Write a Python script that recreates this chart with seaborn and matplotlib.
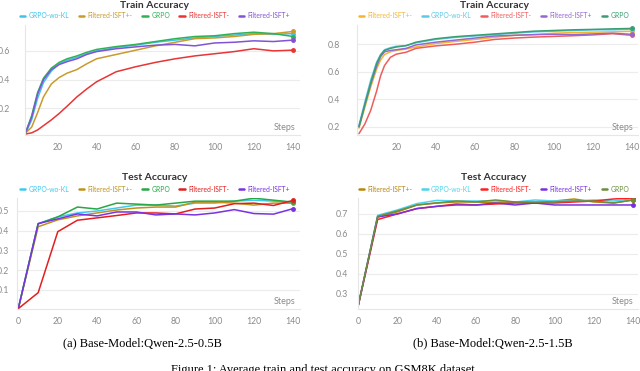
import pandas as pd
import matplotlib
matplotlib.use("Agg")
import matplotlib.pyplot as plt
import seaborn as sns

# ---- data ----
train_steps_a = [4, 7, 10, 13, 17, 21, 25, 30, 35, 40, 45, 50, 60, 70, 80, 90, 100, 110, 120, 130, 140]
train_a = {
    "GRPO-wo-KL":      [0.03, 0.12, 0.27, 0.38, 0.46, 0.51, 0.535, 0.555, 0.58, 0.60, 0.61, 0.625, 0.64, 0.66, 0.675, 0.69, 0.70, 0.71, 0.72, 0.715, 0.72],
    "Filtered-ISFT+-": [0.03, 0.07, 0.17, 0.28, 0.37, 0.415, 0.445, 0.47, 0.51, 0.545, 0.56, 0.575, 0.605, 0.635, 0.66, 0.685, 0.69, 0.70, 0.715, 0.72, 0.735],
    "GRPO":            [0.035, 0.15, 0.31, 0.41, 0.48, 0.52, 0.545, 0.565, 0.59, 0.61, 0.62, 0.63, 0.645, 0.665, 0.685, 0.70, 0.705, 0.72, 0.73, 0.72, 0.70],
    "Filtered-ISFT-":  [0.022, 0.03, 0.05, 0.08, 0.12, 0.165, 0.215, 0.28, 0.335, 0.385, 0.42, 0.455, 0.49, 0.52, 0.545, 0.565, 0.58, 0.595, 0.615, 0.60, 0.605],
    "Filtered-ISFT+":  [0.035, 0.14, 0.30, 0.40, 0.47, 0.505, 0.525, 0.545, 0.575, 0.595, 0.605, 0.615, 0.628, 0.64, 0.645, 0.635, 0.655, 0.66, 0.67, 0.665, 0.675],
}

train_steps_b = [1, 4, 7, 10, 12, 14, 17, 20, 25, 30, 40, 50, 60, 70, 80, 90, 100, 110, 120, 130, 140]
train_b = {
    "Filtered-ISFT+-": [0.19, 0.34, 0.49, 0.62, 0.685, 0.725, 0.745, 0.755, 0.765, 0.78, 0.805, 0.82, 0.835, 0.85, 0.865, 0.87, 0.88, 0.885, 0.888, 0.89, 0.895],
    "GRPO-wo-KL":      [0.21, 0.38, 0.54, 0.67, 0.725, 0.76, 0.775, 0.785, 0.79, 0.81, 0.835, 0.85, 0.86, 0.87, 0.88, 0.89, 0.895, 0.90, 0.905, 0.905, 0.91],
    "Filtered-ISFT-":  [0.15, 0.22, 0.32, 0.46, 0.57, 0.645, 0.705, 0.728, 0.742, 0.77, 0.788, 0.80, 0.815, 0.835, 0.845, 0.852, 0.857, 0.862, 0.868, 0.877, 0.865],
    "Filtered-ISFT+":  [0.20, 0.36, 0.51, 0.64, 0.71, 0.745, 0.755, 0.76, 0.77, 0.795, 0.815, 0.83, 0.845, 0.86, 0.865, 0.87, 0.872, 0.87, 0.875, 0.88, 0.872],
    "GRPO":            [0.20, 0.36, 0.52, 0.66, 0.72, 0.755, 0.77, 0.78, 0.79, 0.815, 0.84, 0.855, 0.865, 0.875, 0.885, 0.895, 0.90, 0.905, 0.908, 0.912, 0.915],
}

test_steps = [0, 10, 20, 30, 40, 50, 60, 70, 80, 90, 100, 110, 120, 130, 140]
test_a = {
    "GRPO-wo-KL":      [0.01, 0.435, 0.47, 0.49, 0.50, 0.515, 0.53, 0.53, 0.525, 0.54, 0.54, 0.55, 0.555, 0.55, 0.545],
    "Filtered-ISFT+-": [0.01, 0.42, 0.455, 0.475, 0.49, 0.505, 0.515, 0.52, 0.52, 0.545, 0.545, 0.54, 0.53, 0.54, 0.54],
    "GRPO":            [0.01, 0.435, 0.47, 0.52, 0.51, 0.54, 0.535, 0.53, 0.54, 0.55, 0.55, 0.55, 0.565, 0.555, 0.545],
    "Filtered-ISFT-":  [0.005, 0.085, 0.395, 0.453, 0.465, 0.477, 0.49, 0.49, 0.485, 0.51, 0.515, 0.537, 0.54, 0.528, 0.554],
    "Filtered-ISFT+":  [0.01, 0.436, 0.46, 0.485, 0.475, 0.495, 0.495, 0.48, 0.485, 0.48, 0.49, 0.507, 0.487, 0.484, 0.512],
}
test_b = {
    "Filtered-ISFT+-": [0.235, 0.685, 0.71, 0.745, 0.755, 0.76, 0.76, 0.755, 0.76, 0.755, 0.765, 0.775, 0.76, 0.755, 0.77],
    "GRPO-wo-KL":      [0.235, 0.693, 0.72, 0.752, 0.768, 0.765, 0.765, 0.765, 0.76, 0.77, 0.765, 0.765, 0.77, 0.765, 0.775],
    "Filtered-ISFT-":  [0.235, 0.672, 0.70, 0.727, 0.738, 0.75, 0.745, 0.75, 0.755, 0.755, 0.755, 0.76, 0.765, 0.775, 0.78],
    "Filtered-ISFT+":  [0.235, 0.685, 0.70, 0.727, 0.738, 0.745, 0.745, 0.755, 0.745, 0.755, 0.745, 0.745, 0.745, 0.745, 0.745],
    "GRPO":            [0.235, 0.688, 0.715, 0.745, 0.755, 0.765, 0.76, 0.77, 0.76, 0.76, 0.76, 0.765, 0.765, 0.755, 0.77],
}

colors_a_train = {"GRPO-wo-KL": "#41c2ea", "Filtered-ISFT+-": "#c99a2e", "GRPO": "#2fb253",
                  "Filtered-ISFT-": "#e83535", "Filtered-ISFT+": "#8253d4"}
colors_b_train = {"Filtered-ISFT+-": "#f3b632", "GRPO-wo-KL": "#5cc9e8", "Filtered-ISFT-": "#ee5d5d",
                  "Filtered-ISFT+": "#9466d2", "GRPO": "#3a9e72"}
colors_a_test = {"GRPO-wo-KL": "#3fc9f2", "Filtered-ISFT+-": "#c0921c", "GRPO": "#28a745",
                 "Filtered-ISFT-": "#e21f1f", "Filtered-ISFT+": "#7a32e2"}
colors_b_test = {"Filtered-ISFT+-": "#b8860b", "GRPO-wo-KL": "#4dd3ec", "Filtered-ISFT-": "#ff1f1f",
                 "Filtered-ISFT+": "#7b2fe0", "GRPO": "#6b8e3a"}


def to_long(steps, series):
    rows = []
    for name, vals in series.items():
        for s, v in zip(steps, vals):
            rows.append({"step": s, "value": v, "run": name})
    return pd.DataFrame(rows)


sns.set_theme(style="white")
plt.rcParams["font.family"] = ["Lato", "DejaVu Sans"]

fig = plt.figure(figsize=(6.4, 3.71), dpi=100)
W, H = 640.0, 371.0


def panel(box, steps, series, palette, title, title_y, legend_y, center_x,
          xlim, ylim, yticks, xticks, ypad):
    l, t, r, b = box
    ax = fig.add_axes([l / W, 1 - b / H, (r - l) / W, (b - t) / H])
    df = to_long(steps, series)
    order = list(series.keys())
    sns.lineplot(data=df, x="step", y="value", hue="run", hue_order=order,
                 palette=palette, linewidth=1.1, ax=ax, legend=False)
    # end-point dots
    for name in order:
        ax.plot(steps[-1], series[name][-1], "o", ms=2.5, color=palette[name])
    ax.set_xlim(*xlim)
    ax.set_ylim(*ylim)
    ax.set_yticks(yticks)
    ax.set_yticklabels([f"{v:.1f}" for v in yticks])
    ax.set_xticks(xticks)
    ax.set_xlabel("")
    ax.set_ylabel("")
    ax.grid(axis="y", color="#ececec", linewidth=0.8)
    for side in ["top", "right"]:
        ax.spines[side].set_visible(False)
    for side in ["left", "bottom"]:
        ax.spines[side].set_color("#e6e6e6")
        ax.spines[side].set_linewidth(0.8)
    ax.tick_params(axis="x", length=3, color="#dddddd", labelsize=6.3,
                   labelcolor="#8a8a8a", pad=2.5)
    ax.tick_params(axis="y", length=0, labelsize=6.3, labelcolor="#8a8a8a", pad=ypad)
    ax.text(0.985, 0.03, "Steps", transform=ax.transAxes, ha="right", va="bottom",
            fontsize=6.5, color="#8a8a8a")
    fig.text(center_x / W, 1 - title_y / H, title, ha="center", va="center",
             fontsize=7.5, fontweight="bold", color="#333333")
    handles = [plt.Line2D([], [], color=palette[n], lw=1.8) for n in order]
    leg = fig.legend(handles, order, loc="center", ncol=len(order),
                     bbox_to_anchor=(center_x / W, 1 - legend_y / H),
                     frameon=False, fontsize=4.9, handlelength=0.8,
                     handletextpad=0.5, columnspacing=1.4, borderaxespad=0)
    for txt, n in zip(leg.get_texts(), order):
        txt.set_color(palette[n])
    return ax


top_ticks = [20, 40, 60, 80, 100, 120, 140]
all_ticks = [0, 20, 40, 60, 80, 100, 120, 140]

panel((25, 25, 300, 135), train_steps_a, train_a, colors_a_train, "Train Accuracy",
      5, 15.5, 155, (3.6, 143.5), (0.015, 0.78), [0.2, 0.4, 0.6], top_ticks, 10.5)
panel((357, 25, 638, 135), train_steps_b, train_b, colors_b_train, "Train Accuracy",
      5, 15.5, 494, (0, 143), (0.14, 0.94), [0.2, 0.4, 0.6, 0.8], top_ticks, 12)
panel((17, 198, 300, 309), test_steps, test_a, colors_a_test, "Test Accuracy",
      177, 189, 155, (-0.8, 143.5), (0.002, 0.566), [0.1, 0.2, 0.3, 0.4, 0.5], all_ticks, 5.8)
panel((358, 198, 638, 309), test_steps, test_b, colors_b_test, "Test Accuracy",
      177, 189, 494, (0, 142.5), (0.223, 0.78), [0.3, 0.4, 0.5, 0.6, 0.7], all_ticks, 7)

serif = ["Liberation Serif", "DejaVu Serif"]
fig.text(142 / W, 1 - 343 / H, "(a) Base-Model:Qwen-2.5-0.5B", ha="center", va="center",
         fontsize=9, family=serif, color="black")
fig.text(493 / W, 1 - 343 / H, "(b) Base-Model:Qwen-2.5-1.5B", ha="center", va="center",
         fontsize=9, family=serif, color="black")
fig.text(323 / W, 1 - 364 / H, "Figure 1: Average train and test accuracy on GSM8K dataset",
         ha="center", va="top", fontsize=9, family=serif, color="black")

fig.savefig("out.png", dpi=100)
